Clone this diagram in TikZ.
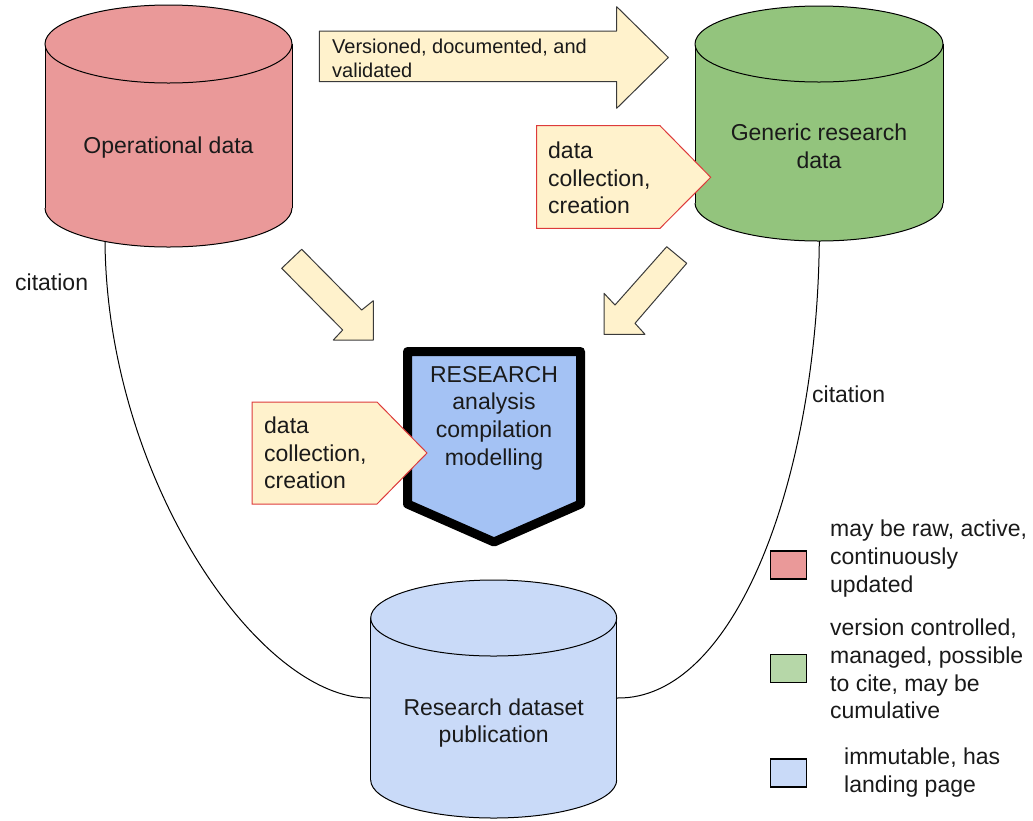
\documentclass[tikz,border=0pt]{standalone}
\usepackage{fontspec}
\setmainfont{Liberation Sans}
\usetikzlibrary{calc}
\definecolor{cred}{HTML}{EA9999}
\definecolor{cgreen}{HTML}{93C47D}
\definecolor{lgreen}{HTML}{B6D7A8}
\definecolor{cblue}{HTML}{C9DAF8}
\definecolor{rblue}{HTML}{A4C2F4}
\definecolor{afill}{HTML}{FFF2CC}
\definecolor{aline}{HTML}{3A3A3A}
\definecolor{pred}{HTML}{DD3B3B}
\definecolor{tcol}{HTML}{1A1A1A}
\newcommand\drawdbcyl[6]{%
  \fill[#1] ({#2-#3},#4) rectangle ({#2+#3},#5);
  \fill[#1] (#2,#5) ellipse [x radius=#3, y radius=#6];
  \begin{scope}
    \clip ({#2-#3-3},#5) rectangle ({#2+#3+3},{#5+#6+3});
    \draw[cylline] (#2,#5) ellipse [x radius=#3, y radius=#6];
  \end{scope}
  \draw[cylline] ({#2-#3},#4) -- ({#2-#3},#5) ({#2+#3},#4) -- ({#2+#3},#5);
  \filldraw[fill=#1, cylline] (#2,#4) ellipse [x radius=#3, y radius=#6];
}
\begin{document}
\begin{tikzpicture}[x=1pt,y=-1pt,
  txt/.style={inner sep=0pt, text=tcol, font=\fontsize{23}{27.6}\selectfont},
  smalltxt/.style={inner sep=0pt, text=tcol, font=\fontsize{20}{24}\selectfont},
  cylline/.style={draw=black, line width=1pt},
  cite/.style={draw=black, line width=1pt},
  blockarrow/.style={fill=afill, draw=aline, line width=1pt, line join=round},
  pent/.style={fill=afill, draw=pred, line width=1pt},
  legbox/.style={draw=black, line width=1.2pt, inner sep=0pt, minimum width=36pt, minimum height=28pt}]
\useasboundingbox (0,0) rectangle (1033,820);

% citation curves (drawn first)
\coordinate (opdcite) at (105,241.5);
\coordinate (grdcite) at (819.3,241);
\node[minimum width=246pt, minimum height=240pt, inner sep=0pt] (pubshape) at (493.7,698) {};
\draw[cite] (opdcite) .. controls (107,480) and (260,700) .. (pubshape.west);
\draw[cite] (grdcite) .. controls (817,480) and (735,700) .. (pubshape.east);

% cylinders
\drawdbcyl{cred}{168.5}{123.5}{44}{208}{39}
\drawdbcyl{cgreen}{819}{124}{44}{203}{38}
\drawdbcyl{cblue}{493.7}{123}{618}{780}{38}

\node[txt, align=center] (opd) at (168.5,148) {Operational data};
\node[txt, align=center] (grd) at (819,146) {Generic research\\data};
\node[txt, align=center] (pub) at (493.7,723) {Research dataset\\publication};

% block arrows
\draw[blockarrow] (319.3,31) -- (616.7,31) -- (616.7,6.7) -- (668.3,57.5) -- (616.7,108.3) -- (616.7,81.7) -- (319.3,81.7) -- cycle;
\node[smalltxt, align=left, anchor=west] (vdv) at (332,58) {Versioned, documented, and\\validated};

\draw[blockarrow] (301.7,249.3) -- (361.7,310) -- (373.3,300.7) -- (373.3,340) -- (333.3,340) -- (342.7,330) -- (281.7,268.3) -- cycle;
\draw[blockarrow] (666.7,246.7) -- (686.7,263.3) -- (635,323.3) -- (645,334.3) -- (604,334.3) -- (604,293.3) -- (615,305) -- cycle;

% research block
\draw[line width=9pt, line join=round, fill=rblue] (407.5,351.5) -- (580.5,351.5) -- (580.5,504) -- (494,542) -- (407.5,504) -- cycle;
\node[txt, align=center] (res) at (494,418) {RESEARCH\\analysis\\compilation\\modelling};

% data collection pentagons
\draw[pent] (252,402) -- (377,402) -- (427,453) -- (377,504) -- (252,504) -- cycle;
\node[txt, align=left, anchor=west] (dc1) at (264,453) {data\\collection,\\creation};
\draw[pent] (536.7,125.7) -- (660,125.7) -- (710.7,177.3) -- (660,228.3) -- (536.7,228.3) -- cycle;
\node[txt, align=left, anchor=west] (dc2) at (548,178) {data\\collection,\\creation};

% citation labels
\node[txt, anchor=west] (cit1) at (15,282) {citation};
\node[txt, anchor=west] (cit2) at (812,394) {citation};

% legend
\node[legbox, fill=cred] (lg1) at (788.3,565) {};
\node[legbox, fill=lgreen] (lg2) at (788.3,668.7) {};
\node[legbox, fill=cblue] (lg3) at (788.3,773) {};
\node[txt, align=left, anchor=west] (lt1) at (830,558.5) {may be raw, active,\\continuously\\updated};
\node[txt, align=left, anchor=west] (lt2) at (830,669) {version controlled,\\managed, possible\\to cite, may be\\cumulative};
\node[txt, align=left, anchor=west] (lt3) at (844,772.5) {immutable, has\\landing page};
\end{tikzpicture}
\end{document}
